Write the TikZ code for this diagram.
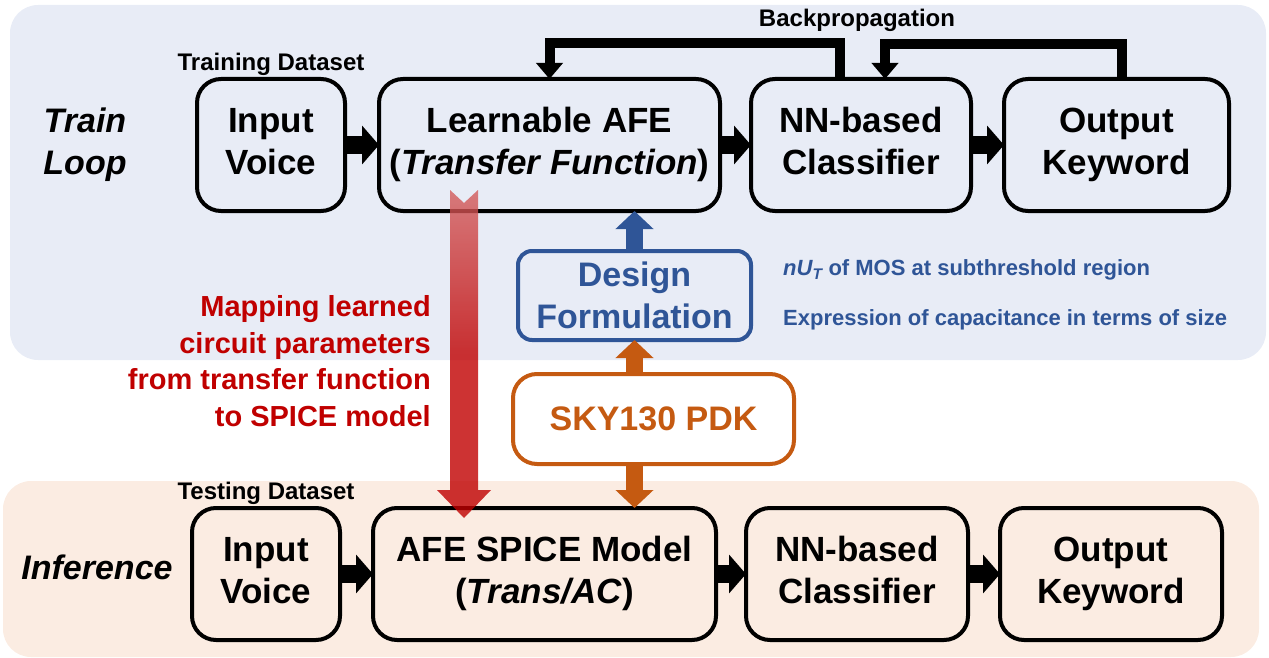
\documentclass[tikz,border=0pt]{standalone}
\usepackage{fontspec}
\setmainfont{Liberation Sans}
\usetikzlibrary{positioning,arrows.meta,calc}
\definecolor{panelblue}{HTML}{E8ECF6}
\definecolor{panelorange}{HTML}{FBECE2}
\definecolor{formblue}{HTML}{2F5597}
\definecolor{pdkorange}{HTML}{C55A11}
\definecolor{mapred}{HTML}{C00000}
\definecolor{mapfade}{HTML}{D35D5D}

\begin{document}
\begin{tikzpicture}[x=1pt, y=-1pt,
        blocknode/.style={rectangle, rounded corners=24pt, draw=black, line width=4pt, minimum height=132pt, inner sep=0pt, outer sep=0pt, align=center, font=\fontsize{35}{42}\selectfont\bfseries},
        formbox/.style={rectangle, rounded corners=14pt, draw=formblue, text=formblue, line width=4pt, minimum width=233pt, minimum height=89pt, inner sep=0pt, outer sep=0pt, align=center, font=\fontsize{34}{42}\selectfont\bfseries},
        pdkbox/.style={rectangle, rounded corners=24pt, draw=pdkorange, fill=white, text=pdkorange, line width=4pt, minimum width=281pt, minimum height=90pt, inner sep=0pt, outer sep=0pt, font=\fontsize{34}{42}\selectfont\bfseries},
        flowarrow/.style={line width=18pt, -{Triangle[length=17pt,width=38pt]}},
        backarrow/.style={line width=10pt, -{Triangle[length=16pt,width=26pt]}},
        colorarrow/.style={line width=17pt, -{Triangle[length=18pt,width=37pt]}},
        smalllabel/.style={inner sep=0pt, font=\fontsize{24}{28}\selectfont\bfseries},
        rowlabel/.style={inner sep=0pt, align=center, font=\fontsize{34}{42}\selectfont\bfseries\itshape},
        maptext/.style={inner sep=0pt, align=right, text=mapred, font=\fontsize{29}{36.5}\selectfont\bfseries},
        notetext/.style={inner sep=0pt, text=formblue, font=\fontsize{22}{26}\selectfont\bfseries}]

        \useasboundingbox (0,0) rectangle (1269,658);
        \fill[panelblue, rounded corners=28pt] (10,5) rectangle (1266,360);
        \fill[panelorange, rounded corners=28pt] (3,481) rectangle (1259,657);

        \node[blocknode, minimum width=148pt] (iv) at (271,145) {\strut Input\\\strut Voice};
        \node[blocknode, minimum width=341pt, right=34pt of iv] (afe) {\strut Learnable AFE\\\strut(\textit{Transfer Function})};
        \node[blocknode, minimum width=220pt, right=31pt of afe] (nn) {\strut NN-based\\\strut Classifier};
        \node[blocknode, minimum width=225pt, right=33pt of nn] (ok) {\strut Output\\\strut Keyword};

        \node[blocknode, minimum width=148pt] (ivb) at (266,574) {\strut Input\\\strut Voice};
        \node[blocknode, minimum width=343pt, right=33pt of ivb] (afes) {\strut AFE SPICE Model\\\strut(\textit{Trans/AC})};
        \node[blocknode, minimum width=222pt, right=30pt of afes] (nnb) {\strut NN-based\\\strut Classifier};
        \node[blocknode, minimum width=222pt, right=32pt of nnb] (okb) {\strut Output\\\strut Keyword};

        \node[formbox] (des) at (634.5,295.5) {Design\\Formulation};
        \node[pdkbox] (pdk) at (653.5,419) {SKY130 PDK};

        \node[rowlabel] (trainlbl) at (85,145) {Train\\Loop};
        \node[rowlabel] (inflbl) at (97,567) {Inference};
        \node[smalllabel, above=3pt of iv] (trainset) {Training Dataset};
        \node[smalllabel, above=3pt of ivb] (testset) {Testing Dataset};
        \node[smalllabel] (bp) at (857,20) {Backpropagation};

        \node[maptext, anchor=east] (maplbl) at (431,361) {Mapping learned\\circuit parameters\\from transfer function\\to SPICE model};
        \node[notetext, anchor=west] (note1) at (783,270) {\textit{nU\textsubscript{T}} of MOS at subthreshold region};
        \node[notetext, anchor=west] (note2) at (783,320) {Expression of capacitance in terms of size};

        \draw[flowarrow] (iv) -- (afe);
        \draw[flowarrow] (afe) -- (nn);
        \draw[flowarrow] (nn) -- (ok);
        \draw[flowarrow] (ivb) -- (afes);
        \draw[flowarrow] (afes) -- (nnb);
        \draw[flowarrow] (nnb) -- (okb);

        \draw[backarrow] ([xshift=-21pt]nn.north) -- ++(0,-36) -| (afe.north);
        \draw[backarrow] ([xshift=5pt]ok.north) -- ++(0,-35) -| ([xshift=24pt]nn.north);

        \draw[colorarrow, formblue] (des.north) -- (des.north |- afe.south);
        \draw[colorarrow, pdkorange] (pdk.north -| des.south) -- (des.south);
        \draw[colorarrow, pdkorange] (pdk.south -| des.south) -- (des.south |- afes.north);

        \coordinate (mapstart) at (464,190);
        \coordinate (mapend) at (464,518);
        \shade[top color=mapfade, bottom color=mapred, middle color=mapred, fill opacity=0.8]
            ($(mapstart)+(-14,0)$) -- ($(mapstart)+(0,13)$) -- ($(mapstart)+(14,0)$)
            -- ($(mapend)+(14,-28)$) -- ($(mapend)+(27,-28)$) -- (mapend)
            -- ($(mapend)+(-27,-28)$) -- ($(mapend)+(-14,-28)$) -- cycle;

\end{tikzpicture}
\end{document}
